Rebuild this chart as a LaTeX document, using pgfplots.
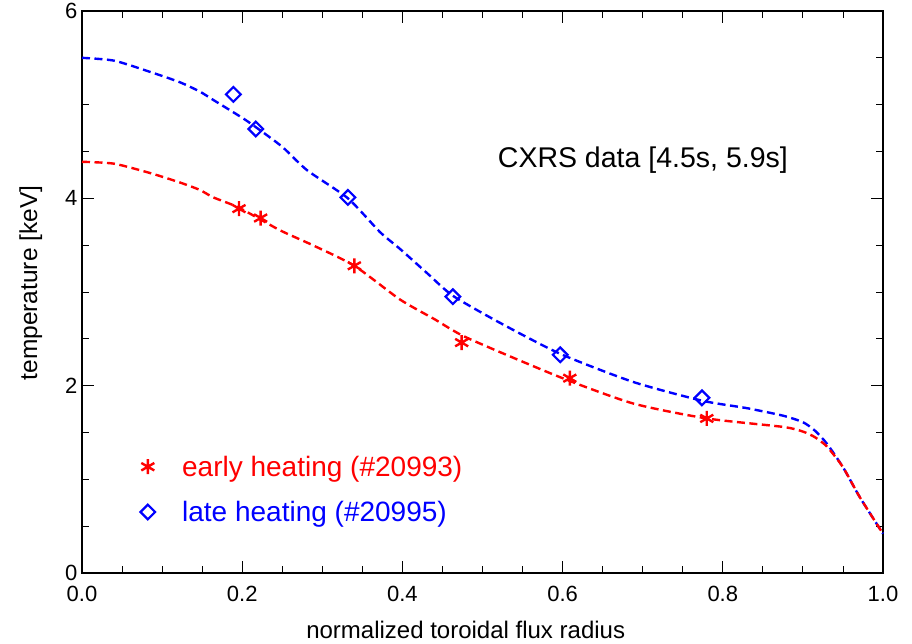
\documentclass[border=0pt]{standalone}
\usepackage{pgfplots}
\pgfplotsset{compat=1.18}
\usepackage{fontspec}
\setmainfont{Liberation Sans}
\definecolor{pred}{RGB}{255,0,0}
\definecolor{pblue}{RGB}{0,0,255}
\begin{document}
\begin{tikzpicture}
\useasboundingbox (-82pt,-70pt) rectangle (830pt,573pt);
\begin{axis}[
  at={(0pt,0pt)}, anchor=south west,
  scale only axis, width=801pt, height=562pt,
  xmin=0, xmax=1, ymin=0, ymax=6,
  xtick={0,0.2,0.4,0.6,0.8,1.0},
  xticklabels={0.0,0.2,0.4,0.6,0.8,1.0},
  ytick={0,2,4,6},
  minor xtick={0.05,0.1,0.15,0.25,0.3,0.35,0.45,0.5,0.55,0.65,0.7,0.75,0.85,0.9,0.95},
  minor ytick={0.5,1,1.5,2.5,3,3.5,4.5,5,5.5},
  tick align=inside,
  major tick length=12pt, minor tick length=7pt,
  every tick/.style={black, line width=0.9pt},
  axis line style={line width=1.3pt},
  /pgf/number format/assume math mode=true,
  ticklabel style={font=\fontsize{22}{26}\selectfont},
  xticklabel style={yshift=-10pt},
  yticklabel style={xshift=-1pt},
  xlabel={normalized toroidal flux radius},
  ylabel={temperature [keV]},
  xlabel style={font=\fontsize{24}{28}\selectfont, at={(axis description cs:0.479,-0.101)}, anchor=center},
  ylabel style={font=\fontsize{24.5}{28}\selectfont, at={(axis description cs:-0.064,0.516)}, anchor=center},
  legend style={draw=none, fill=none, inner sep=0pt, outer sep=0pt,
    at={(axis description cs:0.0730,0.2085)}, anchor=north west,
    font=\fontsize{28}{33}\selectfont, row sep=23.5pt,
    nodes={inner sep=0pt}},
  legend cell align=left,
  /tikz/every odd column/.append style={column sep=27pt},
  clip=false,
]
% curves
\addplot[pblue, line width=2.4pt, dash pattern=on 8pt off 4.5pt, smooth, tension=0.4, forget plot] coordinates {
(0,5.50) (0.04,5.47) (0.085,5.35) (0.122,5.24) (0.147,5.14) (0.164,5.05)
(0.2,4.86) (0.217,4.76) (0.25,4.55) (0.281,4.30) (0.332,4.00) (0.372,3.64)
(0.397,3.46) (0.431,3.20) (0.463,2.96) (0.522,2.67) (0.597,2.34) (0.688,2.04)
(0.774,1.84) (0.83,1.76) (0.875,1.68) (0.9,1.61) (0.915,1.52) (0.93,1.38)
(0.95,1.13) (0.971,0.81) (1.0,0.42)};
\addplot[pred, line width=2.4pt, dash pattern=on 8pt off 4.5pt, smooth, tension=0.4, forget plot] coordinates {
(0,4.39) (0.04,4.37) (0.085,4.27) (0.122,4.17) (0.147,4.09) (0.164,4.01)
(0.196,3.90) (0.247,3.66) (0.288,3.50) (0.34,3.28) (0.397,2.92) (0.44,2.71)
(0.481,2.51) (0.597,2.09) (0.688,1.81) (0.78,1.65) (0.875,1.56) (0.9,1.51)
(0.915,1.45) (0.93,1.35) (0.95,1.13) (0.971,0.81) (1.0,0.42)};
% data points
\addplot[pred, only marks, mark=asterisk, mark size=7.5pt, mark options={line width=2.4pt}] coordinates {
(0.196,3.89) (0.223,3.79) (0.340,3.28) (0.474,2.46) (0.609,2.08) (0.780,1.65)};
\addlegendentry{\textcolor{pred}{early heating (\#20993)}}
\addplot[pblue, only marks, mark=square, mark size=5.2pt, mark options={line width=2.2pt, rotate=45}] coordinates {
(0.189,5.11) (0.217,4.74) (0.332,4.01) (0.463,2.95) (0.597,2.33) (0.774,1.87)};
\addlegendentry{\textcolor{pblue}{late heating (\#20995)}}
\node[anchor=base west, inner sep=0pt, font=\fontsize{28.5}{33}\selectfont] at (axis cs:0.519,4.324) {CXRS data [4.5s, 5.9s]};
\end{axis}
\end{tikzpicture}
\end{document}
